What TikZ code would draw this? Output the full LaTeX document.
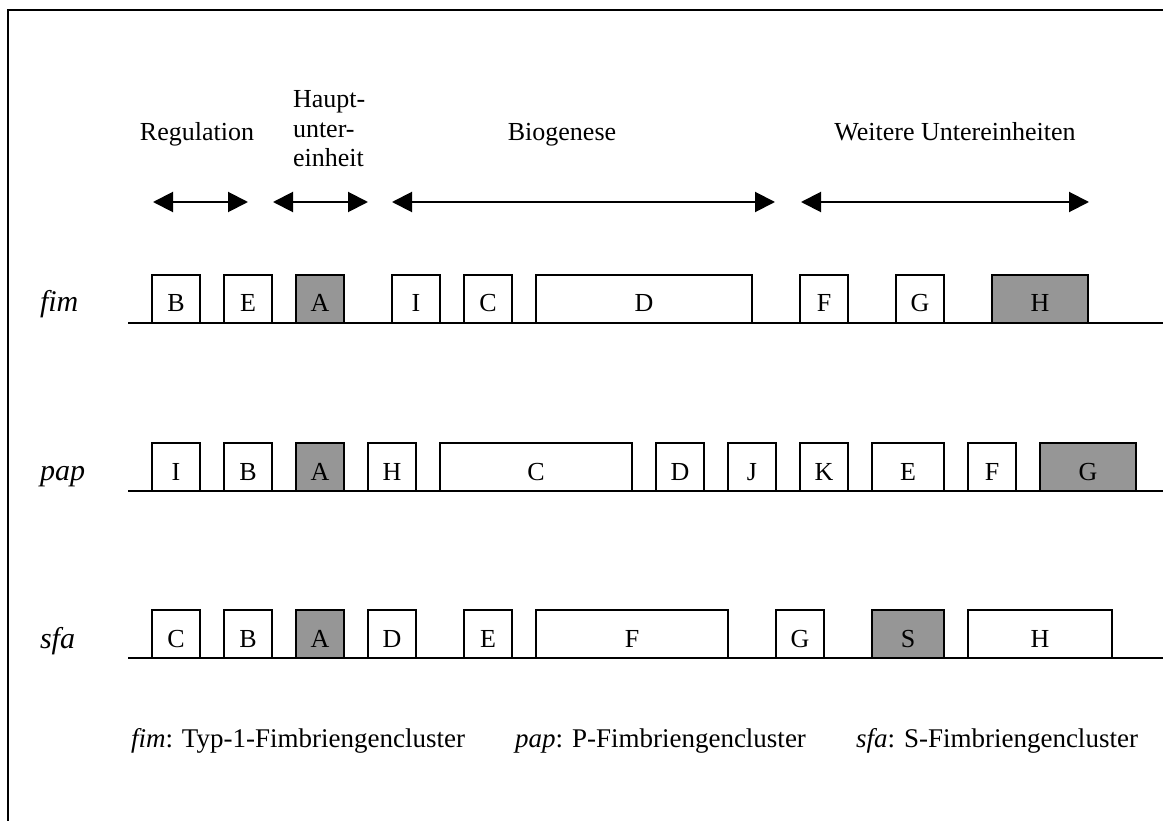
\documentclass[tikz,border=0pt]{standalone}
\usepackage{fontspec}
\setmainfont{Liberation Serif}
\usetikzlibrary{arrows.meta}
\definecolor{boxgray}{RGB}{150,150,150}
\newcommand\labfont{\fontsize{26}{30}\selectfont}
\newcommand\rowfont{\fontsize{30}{34}\selectfont}
\newcommand\legfont{\fontsize{27}{32}\selectfont}

\begin{document}
\begin{tikzpicture}[x=1pt,y=-1pt,
  gene/.style={draw, line width=2pt, fill=white, minimum height=48pt,
    inner sep=0pt, outer sep=0pt, text height=26pt, text depth=0pt,
    anchor=south west, font=\labfont},
  core/.style={gene, fill=boxgray},
  w2/.style={minimum width=48pt},
  w3/.style={minimum width=72pt},
  w4/.style={minimum width=96pt},
  w6/.style={minimum width=144pt},
  w8/.style={minimum width=192pt},
  w9/.style={minimum width=216pt},
  chrom/.style={line width=2pt},
  span/.style={line width=2pt,
    {Triangle[length=20pt,width=20pt]}-{Triangle[length=20pt,width=20pt]}},
  txt/.style={font=\labfont, inner sep=0pt, outer sep=0pt},
  rowlab/.style={txt, font=\rowfont\itshape, anchor=base west},
  leg/.style={txt, font=\legfont, anchor=base west},
]
\useasboundingbox (0,0) rectangle (1163,821);

% frame
\coordinate (frBL) at (8,821);
\coordinate (frTL) at (8,10);
\coordinate (frTR) at (1163,10);
\draw[line width=2pt] (frBL) -- (frTL) -- (frTR);

% region headings
\node[txt, anchor=base] (regT) at (197,141) {Regulation};
\node[txt, anchor=base west] (hptA) at (293,108) {Haupt-};
\node[txt, anchor=base west] (hptB) at (293,138) {unter-};
\node[txt, anchor=base west] (hptC) at (293,167) {einheit};
\node[txt, anchor=base] (bioT) at (562,141) {Biogenese};
\node[txt, anchor=base] (weiT) at (955,141) {Weitere Untereinheiten};

% region extents
\coordinate (regL) at (153,202);  \coordinate (regR) at (248,202);
\coordinate (hptL) at (273,202);  \coordinate (hptR) at (368,202);
\coordinate (bioL) at (392,202);  \coordinate (bioR) at (775,202);
\coordinate (weiL) at (801,202);  \coordinate (weiR) at (1089,202);
\draw[span] (regL) -- (regR);
\draw[span] (hptL) -- (hptR);
\draw[span] (bioL) -- (bioR);
\draw[span] (weiL) -- (weiR);

% fim cluster
\node[rowlab] (fimT) at (40,312) {fim};
\coordinate (fimL) at (128,323); \coordinate (fimR) at (1163,323);
\draw[chrom] (fimL) -- (fimR);
\node[gene,w2] (fimB) at (152,323) {B};
\node[gene,w2] (fimE) at (224,323) {E};
\node[core,w2] (fimA) at (296,323) {A};
\node[gene,w2] (fimI) at (392,323) {I};
\node[gene,w2] (fimC) at (464,323) {C};
\node[gene,w9] (fimD) at (536,323) {D};
\node[gene,w2] (fimF) at (800,323) {F};
\node[gene,w2] (fimG) at (896,323) {G};
\node[core,w4] (fimH) at (992,323) {H};

% pap cluster
\node[rowlab] (papT) at (40,480) {pap};
\coordinate (papL) at (128,491); \coordinate (papR) at (1163,491);
\draw[chrom] (papL) -- (papR);
\node[gene,w2] (papI) at (152,491) {I};
\node[gene,w2] (papB) at (224,491) {B};
\node[core,w2] (papA) at (296,491) {A};
\node[gene,w2] (papH) at (368,491) {H};
\node[gene,w8] (papC) at (440,491) {C};
\node[gene,w2] (papD) at (656,491) {D};
\node[gene,w2] (papJ) at (728,491) {J};
\node[gene,w2] (papK) at (800,491) {K};
\node[gene,w3] (papE) at (872,491) {E};
\node[gene,w2] (papF) at (968,491) {F};
\node[core,w4] (papG) at (1040,491) {G};

% sfa cluster
\node[rowlab] (sfaT) at (40,648) {sfa};
\coordinate (sfaL) at (128,658); \coordinate (sfaR) at (1163,658);
\draw[chrom] (sfaL) -- (sfaR);
\node[gene,w2] (sfaC) at (152,658) {C};
\node[gene,w2] (sfaB) at (224,658) {B};
\node[core,w2] (sfaA) at (296,658) {A};
\node[gene,w2] (sfaD) at (368,658) {D};
\node[gene,w2] (sfaE) at (464,658) {E};
\node[gene,w8] (sfaF) at (536,658) {F};
\node[gene,w2] (sfaG) at (776,658) {G};
\node[core,w3] (sfaS) at (872,658) {S};
\node[gene,w6] (sfaH) at (968,658) {H};

% legend
\node[leg] (legFim) at (131,747) {\textit{fim}: Typ-1-Fimbriengencluster};
\node[leg] (legPap) at (515,747) {\textit{pap}: P-Fimbriengencluster};
\node[leg] (legSfa) at (856,747) {\textit{sfa}: S-Fimbriengencluster};
\end{tikzpicture}
\end{document}
